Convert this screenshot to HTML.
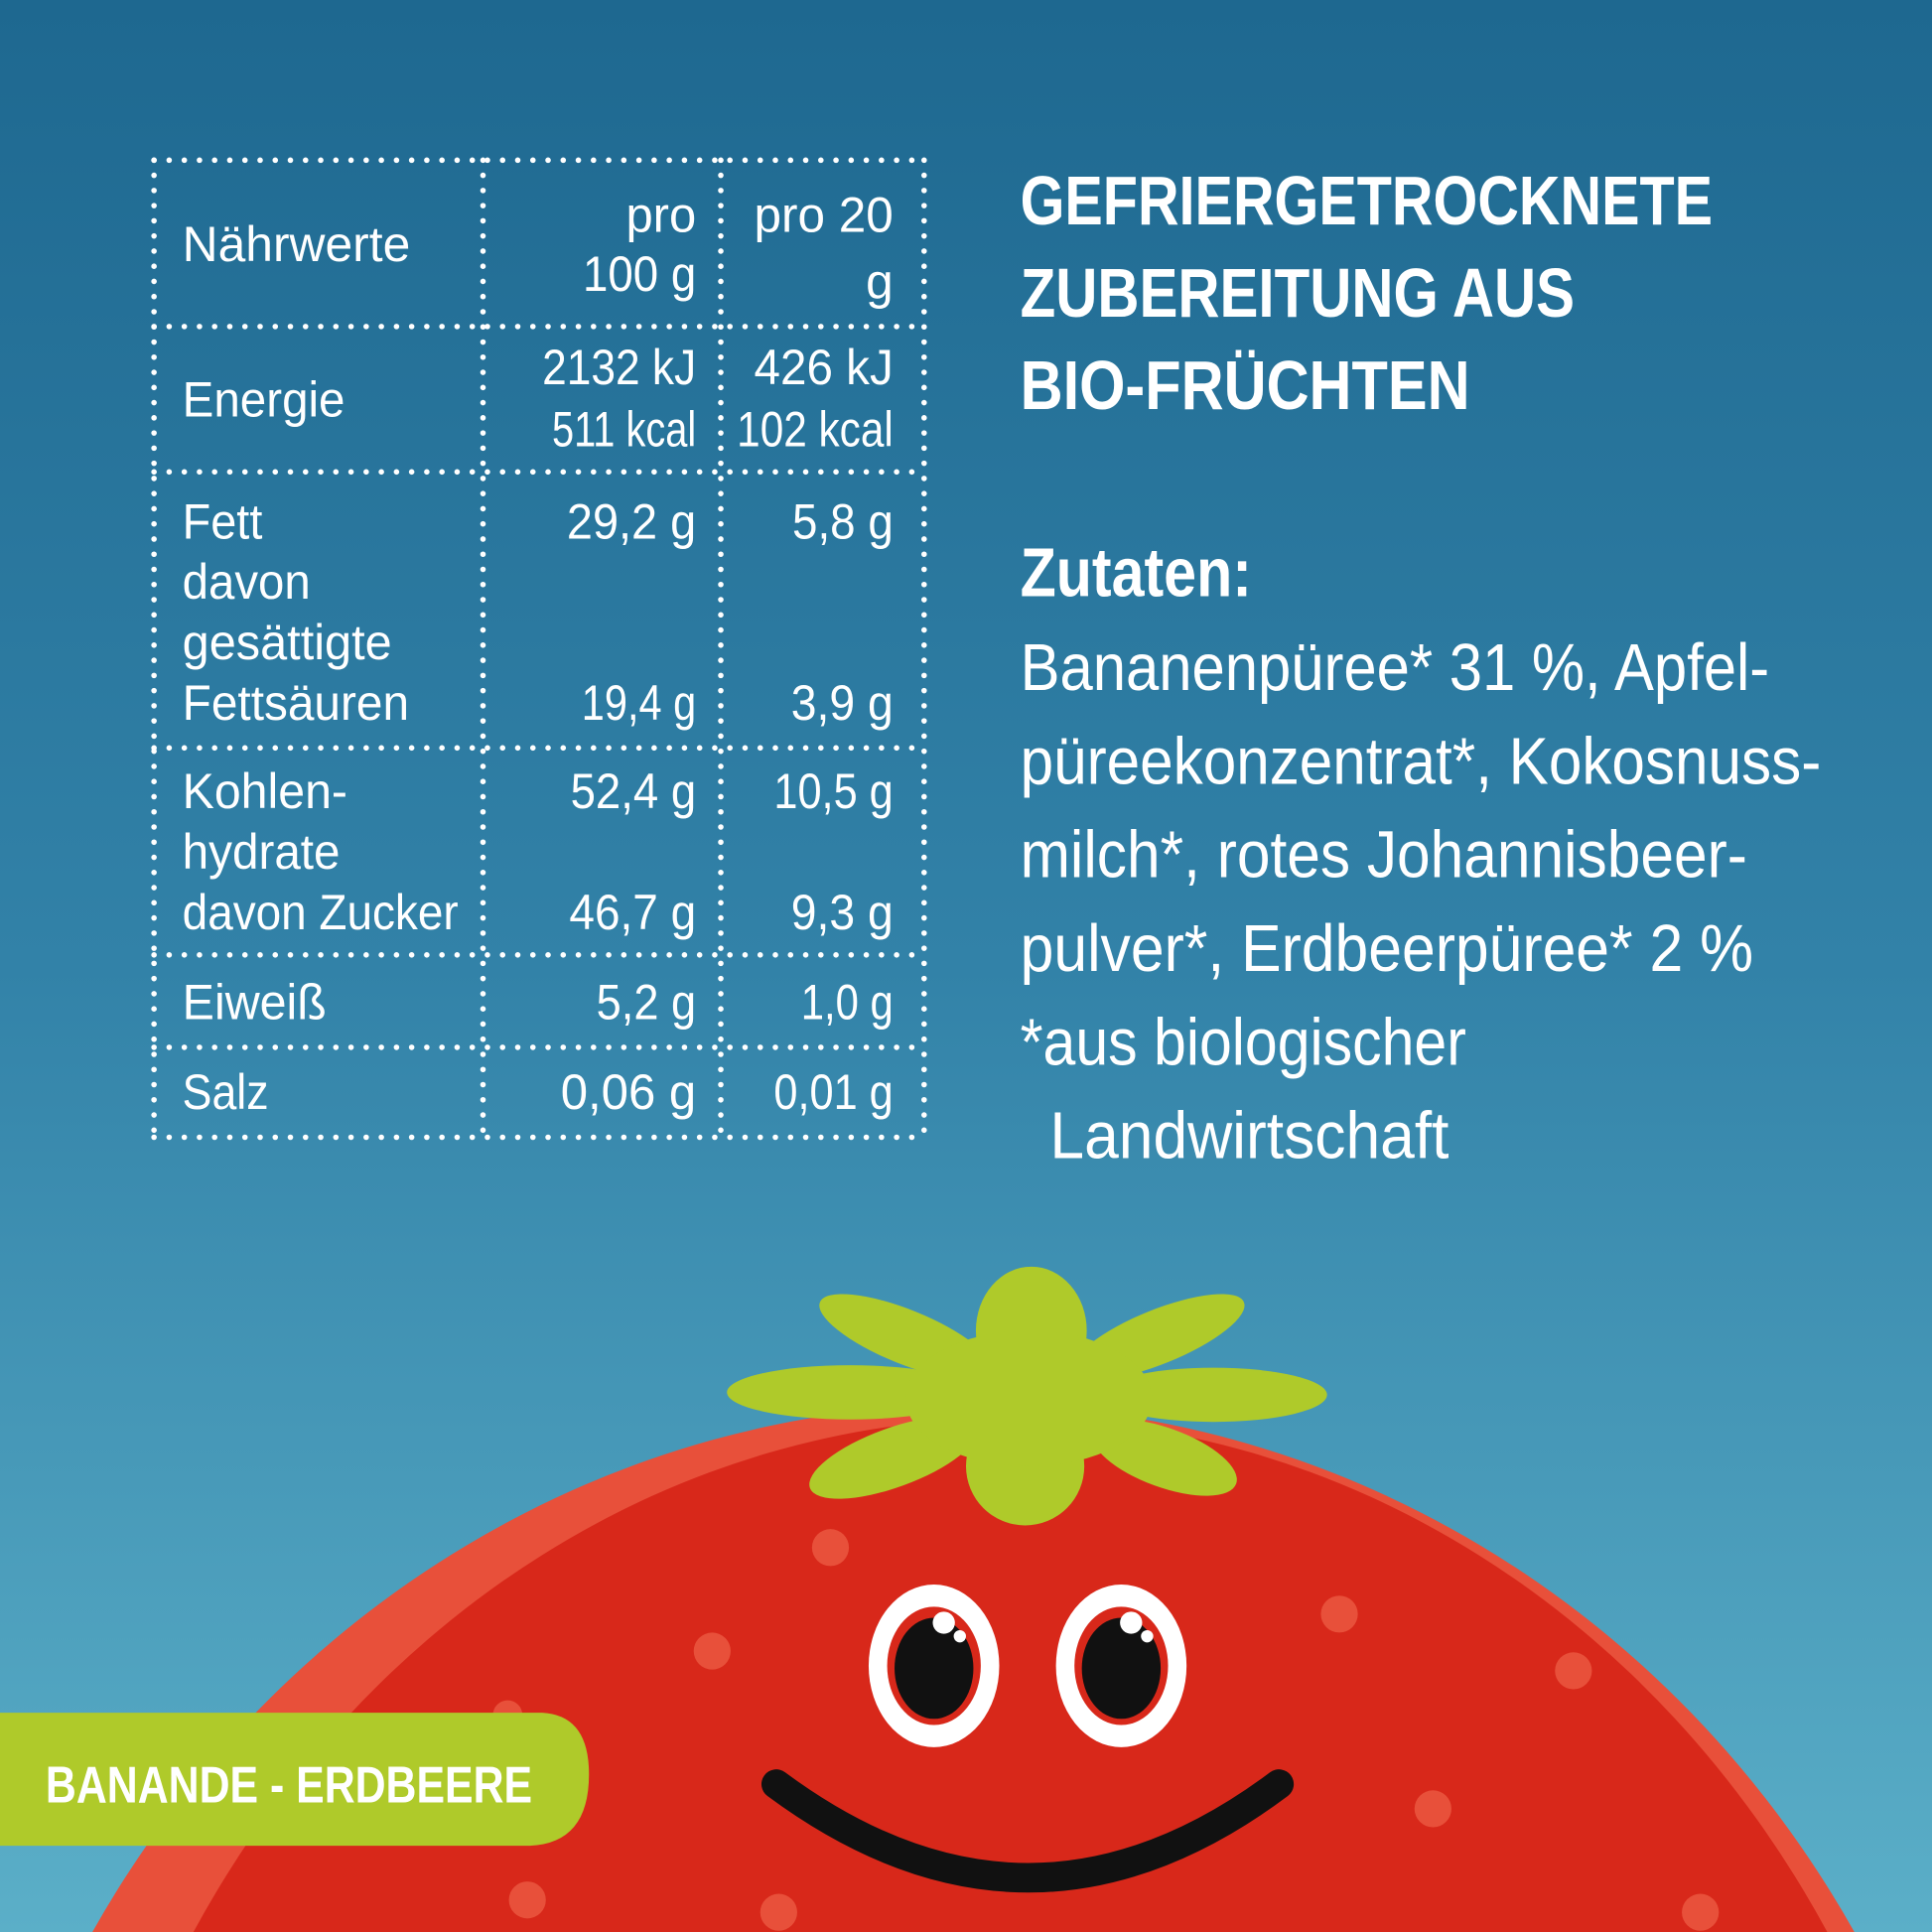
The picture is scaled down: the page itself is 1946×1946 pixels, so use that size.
<!DOCTYPE html>
<html><head><meta charset="utf-8"><style>
html,body{margin:0;padding:0;width:1946px;height:1946px;overflow:hidden}
svg{display:block;overflow:hidden}
text{font-family:"Liberation Sans Narrow","Liberation Sans",sans-serif;fill:#fff}
</style></head><body>
<svg width="1946" height="1946" viewBox="0 0 1568 1568" xmlns="http://www.w3.org/2000/svg">
<defs>
<linearGradient id="bg" x1="0" y1="0" x2="0" y2="1">
<stop offset="0" stop-color="#1e6890"/><stop offset="0.5" stop-color="#3282a8"/><stop offset="1" stop-color="#5bafc8"/>
</linearGradient>
</defs>
<rect width="1568" height="1568" fill="url(#bg)"/>
<g stroke="#fff" stroke-width="4.5" stroke-linecap="round" stroke-dasharray="0 12.3" fill="none">
<path d="M125 130H750M125 265H750M125 383H750M125 607H750M125 775H750M125 850H750M125 923H750"/>
<path d="M125 130V923M392 130V923M585 130V923M750 130V923"/>
</g>
<g font-size="40">
<text x="148" y="212" textLength="185" lengthAdjust="spacingAndGlyphs">Nährwerte</text>
<text x="565" y="188" text-anchor="end" textLength="57" lengthAdjust="spacingAndGlyphs">pro</text>
<text x="565" y="236" text-anchor="end" textLength="92" lengthAdjust="spacingAndGlyphs">100 g</text>
<text x="725" y="188" text-anchor="end" textLength="113" lengthAdjust="spacingAndGlyphs">pro 20</text>
<text x="725" y="242" text-anchor="end">g</text>
<text x="148" y="338" textLength="132" lengthAdjust="spacingAndGlyphs">Energie</text>
<text x="565" y="312" text-anchor="end" textLength="125" lengthAdjust="spacingAndGlyphs">2132 kJ</text>
<text x="565" y="362" text-anchor="end" textLength="117" lengthAdjust="spacingAndGlyphs">511 kcal</text>
<text x="725" y="312" text-anchor="end" textLength="113" lengthAdjust="spacingAndGlyphs">426 kJ</text>
<text x="725" y="362" text-anchor="end" textLength="127" lengthAdjust="spacingAndGlyphs">102 kcal</text>
<text x="148" y="437" textLength="65" lengthAdjust="spacingAndGlyphs">Fett</text>
<text x="148" y="486" textLength="104" lengthAdjust="spacingAndGlyphs">davon</text>
<text x="148" y="535" textLength="170" lengthAdjust="spacingAndGlyphs">gesättigte</text>
<text x="148" y="584" textLength="184" lengthAdjust="spacingAndGlyphs">Fettsäuren</text>
<text x="565" y="437" text-anchor="end" textLength="105" lengthAdjust="spacingAndGlyphs">29,2 g</text>
<text x="565" y="584" text-anchor="end" textLength="93" lengthAdjust="spacingAndGlyphs">19,4 g</text>
<text x="725" y="437" text-anchor="end" textLength="82" lengthAdjust="spacingAndGlyphs">5,8 g</text>
<text x="725" y="584" text-anchor="end" textLength="83" lengthAdjust="spacingAndGlyphs">3,9 g</text>
<text x="148" y="656" textLength="134" lengthAdjust="spacingAndGlyphs">Kohlen-</text>
<text x="148" y="705" textLength="128" lengthAdjust="spacingAndGlyphs">hydrate</text>
<text x="148" y="754" textLength="224" lengthAdjust="spacingAndGlyphs">davon Zucker</text>
<text x="565" y="656" text-anchor="end" textLength="102" lengthAdjust="spacingAndGlyphs">52,4 g</text>
<text x="565" y="754" text-anchor="end" textLength="103" lengthAdjust="spacingAndGlyphs">46,7 g</text>
<text x="725" y="656" text-anchor="end" textLength="97" lengthAdjust="spacingAndGlyphs">10,5 g</text>
<text x="725" y="754" text-anchor="end" textLength="83" lengthAdjust="spacingAndGlyphs">9,3 g</text>
<text x="148" y="827" textLength="117" lengthAdjust="spacingAndGlyphs">Eiweiß</text>
<text x="565" y="827" text-anchor="end" textLength="81" lengthAdjust="spacingAndGlyphs">5,2 g</text>
<text x="725" y="827" text-anchor="end" textLength="75" lengthAdjust="spacingAndGlyphs">1,0 g</text>
<text x="148" y="900" textLength="70" lengthAdjust="spacingAndGlyphs">Salz</text>
<text x="565" y="900" text-anchor="end" textLength="110" lengthAdjust="spacingAndGlyphs">0,06 g</text>
<text x="725" y="900" text-anchor="end" textLength="97" lengthAdjust="spacingAndGlyphs">0,01 g</text>
</g>
<g font-size="56" font-weight="bold">
<text x="828" y="182" textLength="562" lengthAdjust="spacingAndGlyphs">GEFRIERGETROCKNETE</text>
<text x="828" y="257" textLength="450" lengthAdjust="spacingAndGlyphs">ZUBEREITUNG AUS</text>
<text x="828" y="332" textLength="365" lengthAdjust="spacingAndGlyphs">BIO-FRÜCHTEN</text>
<text x="828" y="484" textLength="188" lengthAdjust="spacingAndGlyphs">Zutaten:</text>
</g>
<g font-size="54">
<text x="828" y="560" textLength="608" lengthAdjust="spacingAndGlyphs">Bananenpüree* 31 %, Apfel-</text>
<text x="828" y="636" textLength="650" lengthAdjust="spacingAndGlyphs">püreekonzentrat*, Kokosnuss-</text>
<text x="828" y="712" textLength="590" lengthAdjust="spacingAndGlyphs">milch*, rotes Johannisbeer-</text>
<text x="828" y="788" textLength="595" lengthAdjust="spacingAndGlyphs">pulver*, Erdbeerpüree* 2 %</text>
<text x="828" y="864" textLength="362" lengthAdjust="spacingAndGlyphs">*aus biologischer</text>
<text x="852" y="940" textLength="324" lengthAdjust="spacingAndGlyphs">Landwirtschaft</text>
</g>
<!-- tomato -->
<path d="M75 1568 A830 870 0 0 1 1505 1568 Z" fill="#e8503a"/>
<path d="M157 1568 A775 865 0 0 1 1483 1568 Z" fill="#d8281a"/>
<g fill="#e8503a">
<circle cx="674" cy="1256" r="15"/><circle cx="578" cy="1340" r="15"/><circle cx="1087" cy="1310" r="15"/>
<circle cx="1277" cy="1356" r="15"/><circle cx="1163" cy="1468" r="15"/><circle cx="428" cy="1542" r="15"/>
<circle cx="632" cy="1552" r="15"/><circle cx="1380" cy="1552" r="15"/><circle cx="412" cy="1392" r="12"/>
</g>
<!-- leaves -->
<g fill="#afca2a">
<ellipse cx="735" cy="1085" rx="75" ry="22" transform="rotate(22 735 1085)"/>
<ellipse cx="940" cy="1085" rx="75" ry="22" transform="rotate(-22 940 1085)"/>
<ellipse cx="690" cy="1130" rx="100" ry="22"/>
<ellipse cx="985" cy="1132" rx="92" ry="22"/>
<ellipse cx="725" cy="1183" rx="72" ry="24" transform="rotate(-20 725 1183)"/>
<ellipse cx="945" cy="1183" rx="62" ry="24" transform="rotate(20 945 1183)"/>
<ellipse cx="837" cy="1080" rx="45" ry="52"/>
<ellipse cx="832" cy="1190" rx="48" ry="48"/>
<ellipse cx="835" cy="1135" rx="100" ry="55"/>
</g>
<!-- eyes -->
<g>
<ellipse cx="758" cy="1352" rx="53" ry="66" fill="#fff"/>
<ellipse cx="758" cy="1352" rx="38" ry="48" fill="#d8281a"/>
<ellipse cx="758" cy="1354" rx="32" ry="41" fill="#111"/>
<circle cx="766" cy="1317" r="9" fill="#fff"/><circle cx="779" cy="1328" r="5" fill="#fff"/>
<ellipse cx="910" cy="1352" rx="53" ry="66" fill="#fff"/>
<ellipse cx="910" cy="1352" rx="38" ry="48" fill="#d8281a"/>
<ellipse cx="910" cy="1354" rx="32" ry="41" fill="#111"/>
<circle cx="918" cy="1317" r="9" fill="#fff"/><circle cx="931" cy="1328" r="5" fill="#fff"/>
</g>
<path d="M630 1448 Q835 1600 1038 1448" stroke="#111" stroke-width="24" fill="none" stroke-linecap="round"/>
<!-- label -->
<path d="M0 1390 H440 Q478 1392 478 1440 Q478 1496 430 1498 H0 Z" fill="#afca2a"/>
<text x="37" y="1463" font-size="42" font-weight="bold" textLength="395" lengthAdjust="spacingAndGlyphs">BANANDE - ERDBEERE</text>
</svg>
</body></html>
